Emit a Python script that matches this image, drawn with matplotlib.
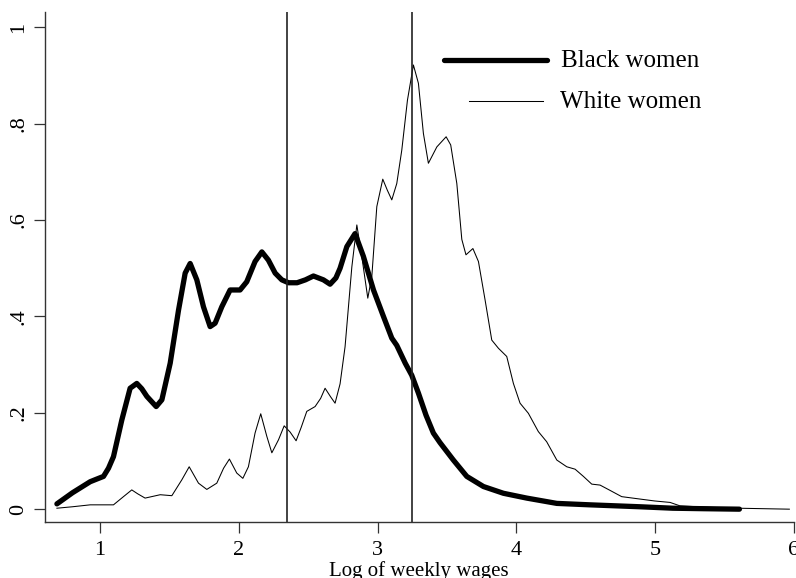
import matplotlib
matplotlib.use("Agg")
import matplotlib.pyplot as plt

# Data
black_x = [0.688, 0.80, 0.928, 0.98, 1.024, 1.06, 1.096, 1.156, 1.216, 1.264, 1.30, 1.337,
           1.404, 1.445, 1.505, 1.565, 1.613, 1.649, 1.697, 1.745, 1.793, 1.829, 1.877,
           1.937, 2.009, 2.057, 2.117, 2.166, 2.213, 2.262, 2.31, 2.358, 2.42, 2.48, 2.538,
           2.61, 2.658, 2.70, 2.73, 2.779, 2.838, 2.898, 2.971, 3.043, 3.103, 3.139, 3.2,
           3.247, 3.295, 3.35, 3.403, 3.451, 3.547, 3.644, 3.764, 3.908, 4.076, 4.293,
           4.533, 4.893, 5.13, 5.35, 5.61]
black_y = [0.011, 0.034, 0.057, 0.063, 0.068, 0.085, 0.109, 0.185, 0.251, 0.261, 0.250, 0.234,
           0.213, 0.227, 0.303, 0.413, 0.49, 0.51, 0.476, 0.42, 0.379, 0.386, 0.42,
           0.455, 0.455, 0.472, 0.514, 0.534, 0.517, 0.49, 0.476, 0.47, 0.470, 0.476, 0.484,
           0.476, 0.467, 0.48, 0.50, 0.545, 0.572, 0.525, 0.455, 0.40, 0.355, 0.340, 0.303,
           0.278, 0.241, 0.195, 0.158, 0.138, 0.102, 0.068, 0.047, 0.033, 0.023, 0.012,
           0.009, 0.005, 0.002, 0.001, 0.0]

white_x = [0.688, 0.80, 0.928, 1.096, 1.168, 1.228, 1.27, 1.324, 1.433, 1.517, 1.589, 1.642,
           1.709, 1.769, 1.841, 1.89, 1.932, 1.985, 2.029, 2.069, 2.117, 2.158, 2.202, 2.238,
           2.286, 2.327, 2.37, 2.413, 2.45, 2.49, 2.55, 2.59, 2.622, 2.66, 2.694, 2.73,
           2.766, 2.815, 2.851, 2.887, 2.93, 2.959, 2.995, 3.038, 3.071, 3.103, 3.139, 3.175,
           3.216, 3.259, 3.295, 3.331, 3.367, 3.428, 3.495, 3.528, 3.572, 3.608, 3.638,
           3.688, 3.728, 3.776, 3.824, 3.872, 3.932, 3.98, 4.028, 4.088, 4.16, 4.22, 4.293,
           4.365, 4.425, 4.485, 4.545, 4.605, 4.677, 4.761, 4.893, 5.00, 5.11, 5.18, 5.37,
           5.6, 5.97]
white_y = [0.002, 0.005, 0.009, 0.009, 0.026, 0.040, 0.032, 0.023, 0.030, 0.028, 0.061, 0.088,
           0.054, 0.041, 0.054, 0.085, 0.104, 0.075, 0.064, 0.088, 0.158, 0.198, 0.151, 0.117,
           0.144, 0.173, 0.160, 0.142, 0.170, 0.203, 0.213, 0.230, 0.251, 0.234, 0.220, 0.260,
           0.337, 0.503, 0.590, 0.524, 0.438, 0.483, 0.628, 0.685, 0.662, 0.642, 0.676, 0.745,
           0.849, 0.922, 0.884, 0.780, 0.718, 0.752, 0.773, 0.756, 0.676, 0.560, 0.528,
           0.541, 0.514, 0.434, 0.351, 0.334, 0.317, 0.261, 0.220, 0.199, 0.161, 0.140, 0.102,
           0.088, 0.083, 0.068, 0.052, 0.050, 0.039, 0.026, 0.021, 0.017, 0.014, 0.007, 0.004,
           0.002, 0.0]

vlines_x = [2.345, 3.252]
x_ticks = [1, 2, 3, 4, 5, 6]
y_ticks = [0, 0.2, 0.4, 0.6, 0.8, 1.0]
y_tick_labels = ["0", ".2", ".4", ".6", ".8", "1"]
series_labels = ["Black women", "White women"]
x_label = "Log of weekly wages"

plt.rcParams["font.family"] = ["Liberation Serif", "DejaVu Serif"]

fig = plt.figure(figsize=(7.96, 5.78), dpi=100)
ax = fig.add_axes([44.7 / 796, 1 - 521.7 / 578, 748.8 / 796, 509.7 / 578])

ax.plot(black_x, black_y, color="black", lw=3.8, solid_capstyle="round",
        solid_joinstyle="round")
ax.plot(white_x, white_y, color="black", lw=0.75, solid_joinstyle="round")
for xv in vlines_x:
    ax.axvline(xv, color="#222222", lw=1.2)

ax.set_xlim(0.6, 6.0)
ax.set_ylim(-0.026, 1.032)
ax.set_xticks(x_ticks)
ax.set_xticklabels([str(t) for t in x_ticks])
ax.set_yticks(y_ticks)
ax.set_yticklabels(y_tick_labels, rotation=90, va="center")
ax.tick_params(axis="both", direction="out", length=8, width=0.9, labelsize=16,
               color="#333333")
ax.tick_params(axis="x", pad=6)
ax.tick_params(axis="y", pad=4)
for s in ["top", "right"]:
    ax.spines[s].set_visible(False)
for s in ["left", "bottom"]:
    ax.spines[s].set_linewidth(1.0)
    ax.spines[s].set_color("#333333")

ax.set_xlabel(x_label, fontsize=15, labelpad=1)

# Legend drawn Stata-style (different key lengths, no frame)
ax.plot([0.533, 0.671], [0.906, 0.906], transform=ax.transAxes, color="black",
        lw=3.8, solid_capstyle="round", clip_on=False)
ax.text(0.690, 0.903, series_labels[0], transform=ax.transAxes, fontsize=18,
        va="center", ha="left")
ax.plot([0.567, 0.666], [0.825, 0.825], transform=ax.transAxes, color="black",
        lw=0.75, clip_on=False)
ax.text(0.688, 0.824, series_labels[1], transform=ax.transAxes, fontsize=18,
        va="center", ha="left")

fig.savefig("out.png", dpi=100)
